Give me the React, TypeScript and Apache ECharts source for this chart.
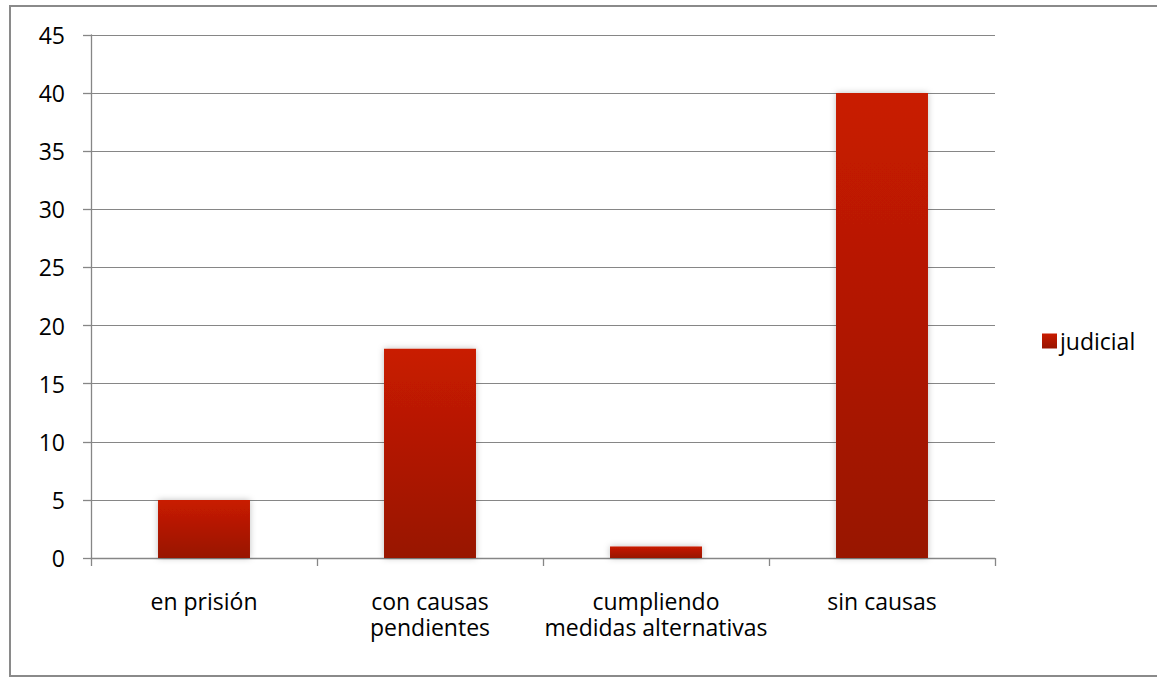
import React, { useEffect, useRef } from "react";
import * as echarts from "echarts";

const categories = ["en prisión", "con causas\npendientes", "cumpliendo\nmedidas alternativas", "sin causas"];
const judicial = [5, 18, 1, 40];
const seriesName = "judicial";

const FONT = "Open Sans";
const FS = 23;

export default function App() {
  const ref = useRef<HTMLDivElement>(null);
  useEffect(() => {
    const chart = echarts.init(ref.current!, null, { renderer: "svg" });
    const grad = new echarts.graphic.LinearGradient(0, 0, 0, 1, [
      { offset: 0, color: "#c91b00" },
      { offset: 1, color: "#981400" },
    ]);
    chart.setOption({
      animation: false,
      backgroundColor: "#ffffff",
      textStyle: { fontFamily: FONT },
      graphic: [
        {
          type: "rect",
          shape: { x: 10, y: 6, width: 1200, height: 670 },
          style: { fill: "none", stroke: "#8a8a8a", lineWidth: 2 },
          silent: true,
        },
      ],
      legend: {
        data: [seriesName],
        left: 1037,
        top: 323,
        orient: "vertical",
        itemWidth: 15,
        itemHeight: 15,
        itemGap: 5,
        icon: "rect",
        textStyle: { fontFamily: FONT, fontSize: FS, color: "#000", lineHeight: 26, padding: [0, 0, 0, -2] },
      },
      grid: { left: 91, right: 162, top: 35, bottom: 119, containLabel: false },
      xAxis: {
        type: "category",
        data: categories,
        axisLine: { lineStyle: { color: "#868686", width: 1.3 } },
        axisTick: { show: true, length: 8, lineStyle: { color: "#868686", width: 1.3 } },
        axisLabel: {
          fontFamily: FONT,
          fontSize: FS,
          color: "#000",
          margin: 30,
          lineHeight: 26,
          interval: 0,
        },
      },
      yAxis: {
        type: "value",
        min: 0,
        max: 45,
        interval: 5,
        axisLine: { show: true, lineStyle: { color: "#868686", width: 1.3 } },
        axisTick: { show: true, length: 8, lineStyle: { color: "#868686", width: 1.3 } },
        axisLabel: { fontFamily: FONT, fontSize: FS, color: "#000", margin: 26 },
        splitLine: { lineStyle: { color: "#868686", width: 1 } },
      },
      series: [
        {
          name: seriesName,
          type: "bar",
          data: judicial,
          barWidth: "40.7%",
          itemStyle: {
            color: grad,
            shadowBlur: 6,
            shadowColor: "rgba(0,0,0,0.25)",
          },
        },
      ],
    });
    return () => chart.dispose();
  }, []);
  return (
    <div
      ref={ref}
      style={{ position: "absolute", left: 0, top: 0, width: 1157, height: 677 }}
    />
  );
}
